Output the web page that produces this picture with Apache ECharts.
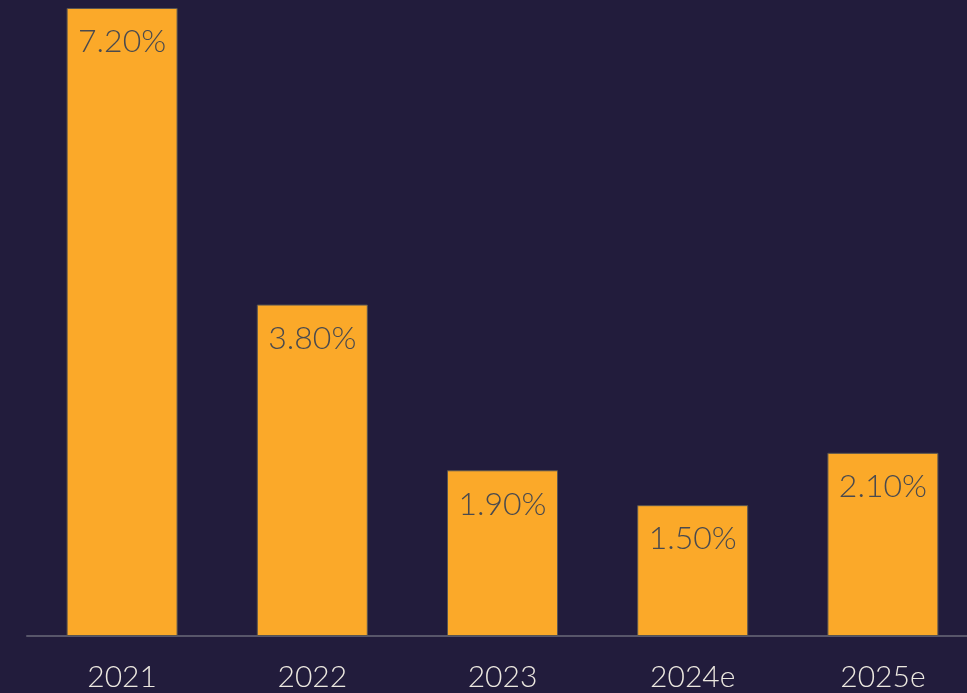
<!DOCTYPE html>
<html><head><meta charset="utf-8">
<script src="https://cdn.jsdelivr.net/npm/echarts@6/dist/echarts.min.js"></script>
<style>html,body{margin:0;padding:0;background:#221c3c;}#c{width:967px;height:693px;}</style>
</head><body><div id="c"></div>
<script>
const categories = ['2021', '2022', '2023', '2024e', '2025e'];
const values = [7.2, 3.8, 1.9, 1.5, 2.1];

const chart = echarts.init(document.getElementById('c'), null, {renderer: 'canvas'});
chart.setOption({
  backgroundColor: '#221c3c',
  animation: false,
  grid: {left: 27, right: -11, top: 8, bottom: 57, containLabel: false, outerBoundsMode: 'none'},
  xAxis: {
    type: 'category', data: categories,
    axisLine: {show: true, lineStyle: {color: '#58566a', width: 2}},
    axisTick: {show: false},
    axisLabel: {color: '#ece8e0', fontSize: 30, fontFamily: 'Lato', fontWeight: 300, margin: 26}
  },
  yAxis: {type: 'value', min: 0, max: 7.2, show: false, splitLine: {show: false}},
  series: [{
    type: 'bar', data: values, barWidth: 111,
    itemStyle: {color: '#fba929', borderColor: '#5a5550', borderWidth: 1},
    label: {show: true, position: 'insideTop', distance: 18,
      formatter: p => p.value.toFixed(2) + '%',
      color: '#4a4a4e', fontSize: 32, fontFamily: 'Lato', fontWeight: 300}
  }]
});
</script></body></html>
